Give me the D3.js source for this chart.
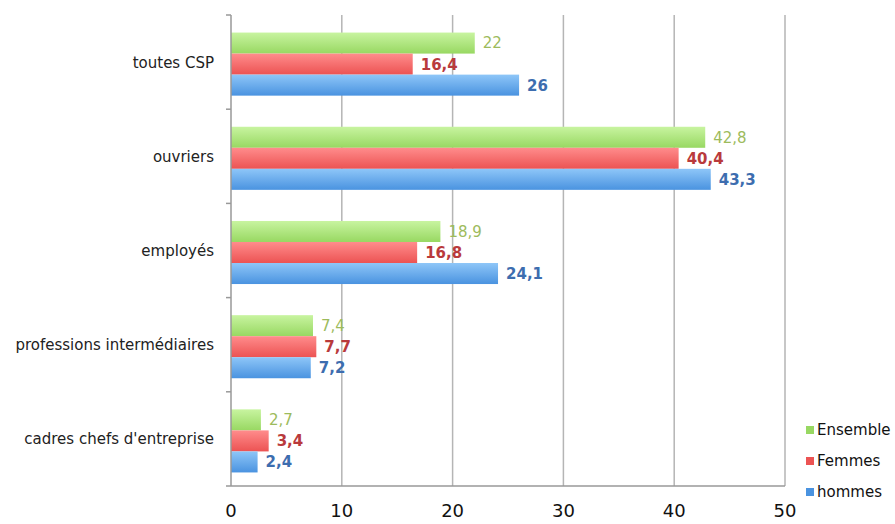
<!DOCTYPE html>
<html>
<head>
<meta charset="utf-8">
<script src="https://cdn.jsdelivr.net/npm/d3@7.9.0/dist/d3.min.js"></script>
<style>
  body { margin: 0; background: #fff; }
  svg { display: block; font-family: 'DejaVu Sans', sans-serif; }
</style>
</head>
<body>
<svg id="chart" width="895" height="524"></svg>
<script>
// ====== DATA ======
const categories = [
  'toutes CSP',
  'ouvriers',
  'employés',
  'professions intermédiaires',
  "cadres chefs d'entreprise",
];
const series = ['Ensemble', 'Femmes', 'hommes'];
const ensemble = [22, 42.8, 18.9, 7.4, 2.7];
const femmes = [16.4, 40.4, 16.8, 7.7, 3.4];
const hommes = [26, 43.3, 24.1, 7.2, 2.4];
const xTicks = [0, 10, 20, 30, 40, 50];

const values = [ensemble, femmes, hommes];

// ====== LOOK ======
const barColors = {
  Ensemble: ['#c8f4a0', '#98d862'],
  Femmes: ['#ff8c8c', '#ec5353'],
  hommes: ['#8ec6f8', '#4a93e0'],
};
const labelColors = { Ensemble: '#9dbb5c', Femmes: '#b93a3c', hommes: '#3d6daf' };
const labelWeights = { Ensemble: 'normal', Femmes: 'bold', hommes: 'bold' };

const margin = { top: 15, left: 231 };

const svg = d3.select('#chart');

// gradients for the glossy bars
const defs = svg.append('defs');
series.forEach((s, i) => {
  const g = defs.append('linearGradient')
    .attr('id', 'grad' + i)
    .attr('x1', 0).attr('y1', 0).attr('x2', 0).attr('y2', 1);
  g.append('stop').attr('offset', '0%').attr('stop-color', barColors[s][0]);
  g.append('stop').attr('offset', '100%').attr('stop-color', barColors[s][1]);
});

const x = d3.scaleLinear()
  .domain([0, 50])
  .range([margin.left, 785]);

const y = d3.scaleBand()
  .domain(categories)
  .range([margin.top, 486])
  .paddingInner(0);

const ySub = d3.scaleBand()
  .domain(series)
  .range([2, y.bandwidth() + 2])
  .paddingInner(0)
  .paddingOuter(0.74);

// ====== GRID ======
svg.append('g')
  .selectAll('line')
  .data(xTicks.slice(1))
  .join('line')
  .attr('x1', (d) => x(d))
  .attr('x2', (d) => x(d))
  .attr('y1', margin.top)
  .attr('y2', 486)
  .attr('stroke', '#b5b5b5')
  .attr('stroke-width', 1.5);

// ====== BARS ======
const groups = svg.append('g')
  .selectAll('g')
  .data(categories)
  .join('g')
  .attr('transform', (d) => `translate(0,${y(d)})`);

groups.each(function (cat, ci) {
  const g = d3.select(this);
  series.forEach((s, si) => {
    const v = values[si][ci];
    g.append('rect')
      .attr('x', x(0))
      .attr('y', ySub(s))
      .attr('width', x(v) - x(0))
      .attr('height', ySub.bandwidth())
      .attr('fill', `url(#grad${si})`);
    g.append('text')
      .attr('x', x(v) + 8)
      .attr('y', ySub(s) + ySub.bandwidth() / 2)
      .attr('dy', '0.36em')
      .attr('font-size', 15)
      .attr('font-weight', labelWeights[s])
      .attr('fill', labelColors[s])
      .text(String(v).replace('.', ','));
  });
});

// ====== AXES ======
const yAxis = svg.append('g');
yAxis.append('line')
  .attr('x1', x(0)).attr('x2', x(0))
  .attr('y1', margin.top).attr('y2', 486)
  .attr('stroke', '#999').attr('stroke-width', 1.5);
yAxis.selectAll('line.tick')
  .data(categories.map((c) => y(c)).concat([486]))
  .join('line')
  .attr('class', 'tick')
  .attr('x1', x(0) - 5).attr('x2', x(0))
  .attr('y1', (d) => d).attr('y2', (d) => d)
  .attr('stroke', '#999').attr('stroke-width', 1.5);
yAxis.selectAll('text')
  .data(categories)
  .join('text')
  .attr('x', 214)
  .attr('y', (d) => y(d) + y.bandwidth() / 2)
  .attr('dy', '0.36em')
  .attr('text-anchor', 'end')
  .attr('font-size', 15)
  .attr('fill', '#222')
  .text((d) => d);

const xAxis = svg.append('g');
xAxis.append('line')
  .attr('x1', x(0)).attr('x2', x(50))
  .attr('y1', 486).attr('y2', 486)
  .attr('stroke', '#999').attr('stroke-width', 1.5);
xAxis.selectAll('text')
  .data(xTicks)
  .join('text')
  .attr('x', (d) => x(d))
  .attr('y', 517)
  .attr('text-anchor', 'middle')
  .attr('font-size', 18)
  .attr('fill', '#111')
  .text((d) => d);

// ====== LEGEND ======
const legend = svg.append('g');
series.forEach((s, i) => {
  const ly = 430 + i * 31;
  legend.append('rect')
    .attr('x', 806).attr('y', ly - 4)
    .attr('width', 8).attr('height', 8)
    .attr('fill', barColors[s][1]);
  legend.append('text')
    .attr('x', 817).attr('y', ly)
    .attr('dy', '0.36em')
    .attr('font-size', 15)
    .attr('fill', '#111')
    .text(s);
});
</script>
</body>
</html>
